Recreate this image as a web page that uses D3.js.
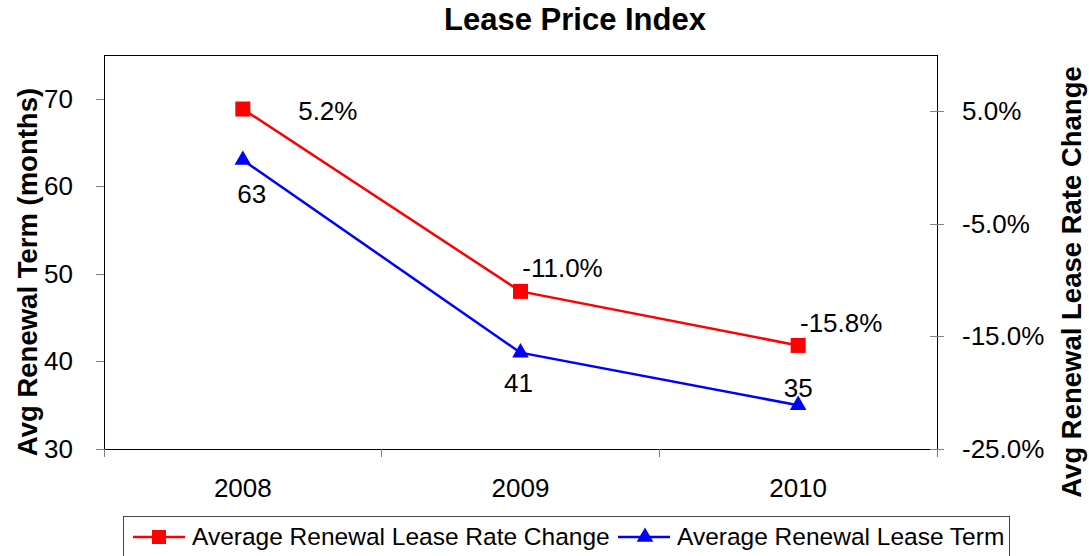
<!DOCTYPE html>
<html lang="en">
<head>
  <meta charset="UTF-8">
  <title>Lease Price Index</title>
  <script src="https://d3js.org/d3.v7.min.js"></script>
  <style>
    body {
      margin: 0;
      background: #fff;
      font-family: "Liberation Sans", Arial, sans-serif;
    }
    .axis path,
    .axis line {
      fill: none;
      stroke: #808080;
      shape-rendering: crispEdges;
    }
    .axis text {
      font-size: 26px;
      fill: #000;
    }
    .title {
      font-size: 31px;
      font-weight: bold;
    }
    .axis-title {
      font-size: 27.5px;
      font-weight: bold;
    }
    .label {
      font-size: 26px;
    }
    .legend-text {
      font-size: 24.5px;
    }
    .series-line {
      fill: none;
      stroke-width: 2.5px;
    }
  </style>
</head>
<body>
  <svg id="chart" width="1089" height="556"></svg>

  <script>
    // data
    const years = ["2008", "2009", "2010"];
    const rateChange = [5.2, -11.0, -15.8];   // right axis, percent
    const leaseTerm = [63, 41, 35];            // left axis, months
    const leftTicks = [30, 40, 50, 60, 70];
    const rightTicks = [-25, -15, -5, 5];

    const margin = {top: 55, right: 152, bottom: 107, left: 104},
          width = 1089 - margin.left - margin.right,
          height = 556 - margin.top - margin.bottom;

    const svg = d3.select("#chart");
    const g = svg.append("g")
      .attr("transform", `translate(${margin.left},${margin.top})`);

    const x = d3.scaleBand().domain(years).range([0, width]);
    const yL = d3.scaleLinear().domain([30, 75]).range([height, 0]);
    const yR = d3.scaleLinear().domain([-25, 10]).range([height, 0]);

    // frame
    g.append("rect")
      .attr("width", width)
      .attr("height", height)
      .attr("fill", "none")
      .attr("stroke", "#000")
      .attr("stroke-width", 1)
      .attr("shape-rendering", "crispEdges");

    // left axis
    const ax1 = g.append("g").attr("class", "axis")
      .call(d3.axisLeft(yL).tickValues(leftTicks).tickSize(8).tickPadding(23));
    ax1.select(".domain").remove();

    // right axis (ticks cross the line)
    const ax2 = g.append("g").attr("class", "axis")
      .attr("transform", `translate(${width},0)`)
      .call(d3.axisRight(yR).tickValues(rightTicks).tickSize(7).tickPadding(18)
        .tickFormat(d => d.toFixed(1) + "%"));
    ax2.select(".domain").remove();
    ax2.selectAll(".tick line").attr("x1", -7);

    // bottom axis: ticks at category boundaries
    const ax3 = g.append("g").attr("class", "axis")
      .attr("transform", `translate(0,${height})`)
      .call(d3.axisBottom(x).tickSize(0));
    ax3.select(".domain").remove();
    ax3.selectAll(".tick text").attr("dy", null).attr("y", 48);
    const bounds = d3.range(years.length + 1).map(i => i * x.step());
    ax3.selectAll(".bound")
      .data(bounds)
      .join("line")
      .attr("class", "bound")
      .attr("x1", d => d).attr("x2", d => d)
      .attr("y1", 0).attr("y2", 8)
      .attr("stroke", "#808080")
      .attr("shape-rendering", "crispEdges");

    const cx = d => x(d) + x.bandwidth() / 2;

    // lines
    const redPts = years.map((yr, i) => [cx(yr), yR(rateChange[i])]);
    const bluePts = years.map((yr, i) => [cx(yr), yL(leaseTerm[i])]);

    g.append("path").attr("class", "series-line")
      .attr("stroke", "#ff0000")
      .attr("d", d3.line()(redPts));
    g.append("path").attr("class", "series-line")
      .attr("stroke", "#0000ff")
      .attr("d", d3.line()(bluePts));

    // markers
    g.selectAll(".sq")
      .data(redPts)
      .join("rect")
      .attr("class", "sq")
      .attr("x", d => d[0] - 7.5).attr("y", d => d[1] - 7.5)
      .attr("width", 15).attr("height", 15)
      .attr("fill", "#ff0000");

    const tri = d3.symbol().type(d3.symbolTriangle).size(120);
    g.selectAll(".tri")
      .data(bluePts)
      .join("path")
      .attr("class", "tri")
      .attr("transform", d => `translate(${d[0]},${d[1]})`)
      .attr("d", tri)
      .attr("fill", "#0000ff");

    // data labels (offsets mimic the Excel placement)
    const redOff = [[85, 11], [42, -14], [43, -13]];
    const blueOff = [[9, 43], [-2, 39], [0, -8]];

    g.selectAll(".rl")
      .data(redPts)
      .join("text")
      .attr("class", "label")
      .attr("text-anchor", "middle")
      .attr("x", (d, i) => d[0] + redOff[i][0])
      .attr("y", (d, i) => d[1] + redOff[i][1])
      .text((d, i) => rateChange[i].toFixed(1) + "%");

    g.selectAll(".bl")
      .data(bluePts)
      .join("text")
      .attr("class", "label")
      .attr("text-anchor", "middle")
      .attr("x", (d, i) => d[0] + blueOff[i][0])
      .attr("y", (d, i) => d[1] + blueOff[i][1])
      .text((d, i) => leaseTerm[i]);

    // titles
    svg.append("text")
      .attr("class", "title")
      .attr("x", 575).attr("y", 30)
      .attr("text-anchor", "middle")
      .text("Lease Price Index");

    svg.append("text")
      .attr("class", "axis-title")
      .attr("transform", "translate(37,272) rotate(-90)")
      .attr("text-anchor", "middle")
      .text("Avg Renewal Term (months)");

    svg.append("text")
      .attr("class", "axis-title")
      .attr("transform", "translate(1081,282) rotate(-90)")
      .attr("text-anchor", "middle")
      .text("Avg Renewal Lease Rate Change");

    // legend
    const lg = svg.append("g").attr("transform", "translate(123,516)");
    lg.append("rect")
      .attr("width", 886).attr("height", 50)
      .attr("fill", "#fff")
      .attr("stroke", "#444")
      .attr("shape-rendering", "crispEdges");

    const items = [
      {name: "Average Renewal Lease Rate Change", color: "#ff0000", kind: "sq", x: 10},
      {name: "Average Renewal Lease Term", color: "#0000ff", kind: "tri", x: 495}
    ];
    const li = lg.selectAll(".li")
      .data(items)
      .join("g")
      .attr("transform", d => `translate(${d.x},21)`);
    li.append("line")
      .attr("x1", 0).attr("x2", 52)
      .attr("stroke", d => d.color)
      .attr("stroke-width", 2.5);
    li.each(function(d) {
      if (d.kind === "sq") {
        d3.select(this).append("rect")
          .attr("x", 19).attr("y", -7).attr("width", 14).attr("height", 14)
          .attr("fill", d.color);
      } else {
        d3.select(this).append("path")
          .attr("transform", "translate(27,0)")
          .attr("d", tri)
          .attr("fill", d.color);
      }
    });
    li.append("text")
      .attr("class", "legend-text")
      .attr("x", 59).attr("y", 8)
      .text(d => d.name);
  </script>
</body>
</html>
